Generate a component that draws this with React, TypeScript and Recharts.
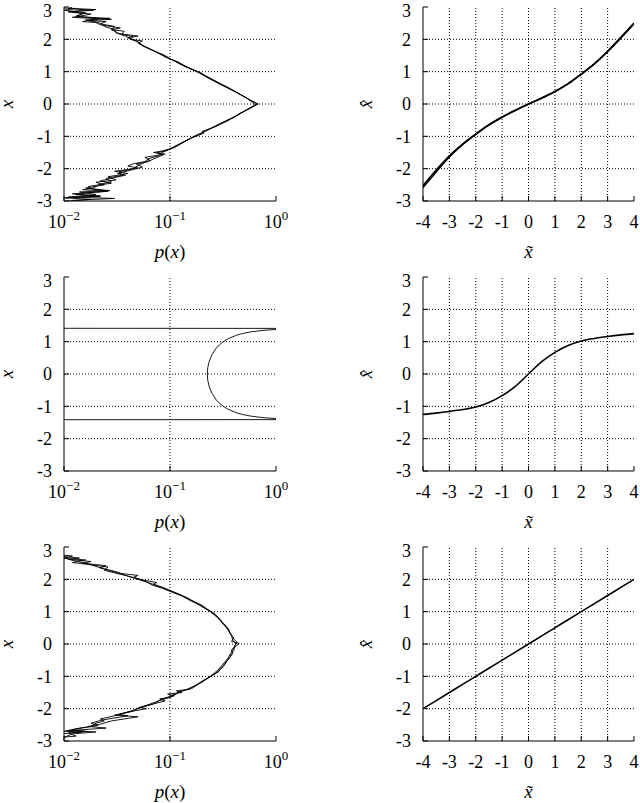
import { LineChart, Line, XAxis, YAxis, ReferenceLine } from 'recharts';

const FONT = '"Liberation Serif", "Times New Roman", serif';

// left column: density p(x) on a log axis against x
const pTicks = [0.01, 0.1, 1];
const pTickExps = ['−2', '−1', '0'];
const pGrid = [0.1];
const xTicks = [-3, -2, -1, 0, 1, 2, 3];
const xGrid = [-2, -1, 0, 1, 2];

// right column: x-hat against x-tilde
const tTicks = [-4, -3, -2, -1, 0, 1, 2, 3, 4];
const tGrid = [-3, -2, -1, 0, 1, 2, 3];
const tValues = [-4, -3.5, -3, -2.5, -2, -1.5, -1, -0.5, 0, 0.5, 1, 1.5, 2, 2.5, 3, 3.5, 4];

// [p, x] pairs, row 1 (laplacian-looking estimates)
const lapA = [
  [0.011, -3.0], [0.018, -2.95], [0.010, -2.9], [0.022, -2.85], [0.013, -2.8], [0.016, -2.75],
  [0.026, -2.7], [0.015, -2.65], [0.019, -2.6], [0.021, -2.5], [0.028, -2.4], [0.025, -2.3],
  [0.036, -2.2], [0.033, -2.1], [0.045, -2.0], [0.05, -1.9], [0.058, -1.8], [0.062, -1.7],
  [0.078, -1.6], [0.084, -1.5], [0.10, -1.4], [0.13, -1.2], [0.17, -1.0], [0.23, -0.8],
  [0.30, -0.6], [0.40, -0.4], [0.52, -0.2], [0.66, 0], [0.52, 0.2], [0.40, 0.4], [0.30, 0.6],
  [0.23, 0.8], [0.18, 1.0], [0.13, 1.2], [0.10, 1.4], [0.09, 1.5], [0.076, 1.6], [0.064, 1.7],
  [0.055, 1.8], [0.052, 1.9], [0.043, 2.0], [0.038, 2.1], [0.031, 2.2], [0.03, 2.3], [0.024, 2.4],
  [0.022, 2.5], [0.016, 2.6], [0.027, 2.65], [0.013, 2.7], [0.015, 2.8], [0.011, 2.85],
  [0.019, 2.9], [0.011, 2.95], [0.012, 3.0],
];
const lapB = [
  [0.012, -2.98], [0.03, -2.92], [0.011, -2.88], [0.02, -2.8], [0.014, -2.72], [0.027, -2.68],
  [0.016, -2.6], [0.024, -2.5], [0.02, -2.42], [0.031, -2.35], [0.026, -2.25], [0.04, -2.15],
  [0.03, -2.08], [0.05, -1.98], [0.04, -1.92], [0.045, -1.85], [0.065, -1.75], [0.058, -1.65],
  [0.09, -1.55], [0.07, -1.5], [0.085, -1.45], [0.11, -1.35], [0.14, -1.15], [0.16, -1.05],
  [0.21, -0.9], [0.2, -0.85], [0.27, -0.7], [0.36, -0.5], [0.45, -0.3], [0.56, -0.15], [0.68, 0],
  [0.55, 0.15], [0.47, 0.28], [0.36, 0.5], [0.29, 0.65], [0.22, 0.85], [0.2, 0.95], [0.17, 1.05],
  [0.14, 1.15], [0.12, 1.3], [0.09, 1.45], [0.08, 1.55], [0.07, 1.65], [0.058, 1.78], [0.05, 1.88],
  [0.055, 1.95], [0.042, 2.0], [0.045, 2.08], [0.035, 2.15], [0.037, 2.25], [0.028, 2.3],
  [0.03, 2.4], [0.022, 2.48], [0.025, 2.55], [0.017, 2.58], [0.028, 2.62], [0.012, 2.68],
  [0.018, 2.78], [0.011, 2.86], [0.02, 2.92], [0.01, 2.97],
];
const lapC = [
  [0.01, -2.9], [0.022, -2.85], [0.012, -2.78], [0.025, -2.7], [0.018, -2.62], [0.017, -2.55],
  [0.028, -2.45], [0.022, -2.38], [0.038, -2.2], [0.032, -2.15], [0.042, -2.05], [0.055, -1.95],
  [0.048, -1.85], [0.06, -1.8], [0.07, -1.7], [0.085, -1.58], [0.075, -1.52], [0.095, -1.42],
  [0.12, -1.25], [0.17, -1.0], [0.22, -0.82], [0.3, -0.6], [0.4, -0.42], [0.5, -0.22], [0.64, -0.02],
  [0.52, 0.2], [0.4, 0.4], [0.3, 0.62], [0.24, 0.8], [0.18, 1.0], [0.135, 1.2], [0.1, 1.4],
  [0.085, 1.52], [0.075, 1.6], [0.06, 1.75], [0.052, 1.85], [0.048, 1.95], [0.04, 2.05],
  [0.05, 2.1], [0.033, 2.18], [0.028, 2.3], [0.034, 2.35], [0.022, 2.45], [0.02, 2.52],
  [0.015, 2.55], [0.021, 2.65], [0.013, 2.72], [0.016, 2.82], [0.01, 2.9], [0.013, 2.96],
];

// row 2: arcsine-shaped density, with the jumps at the support edges
const arcsine = [
  [0.001, -3], [0.001, -1.415], [3.0, -1.41], [1.59, -1.4], [1.03, -1.38], [0.756, -1.35],
  [0.572, -1.3], [0.481, -1.25], [0.425, -1.2], [0.358, -1.1], [0.318, -1.0], [0.292, -0.9],
  [0.273, -0.8], [0.249, -0.6], [0.235, -0.4], [0.227, -0.2], [0.225, 0], [0.227, 0.2],
  [0.235, 0.4], [0.249, 0.6], [0.273, 0.8], [0.292, 0.9], [0.318, 1.0], [0.358, 1.1],
  [0.425, 1.2], [0.481, 1.25], [0.572, 1.3], [0.756, 1.35], [1.03, 1.38], [1.59, 1.4],
  [3.0, 1.41], [0.001, 1.415], [0.001, 3],
];

// row 3: gaussian-looking estimates
const gauA = [
  [0.008, -2.9], [0.013, -2.85], [0.011, -2.75], [0.016, -2.7], [0.012, -2.65], [0.018, -2.55],
  [0.02, -2.45], [0.024, -2.38], [0.022, -2.32], [0.03, -2.22], [0.036, -2.15], [0.045, -2.05],
  [0.05, -1.98], [0.062, -1.88], [0.075, -1.78], [0.085, -1.7], [0.1, -1.62], [0.12, -1.5],
  [0.14, -1.42], [0.17, -1.3], [0.2, -1.18], [0.24, -1.0], [0.28, -0.82], [0.31, -0.66],
  [0.35, -0.45], [0.38, -0.25], [0.4, -0.1], [0.42, 0], [0.39, 0.12], [0.38, 0.28], [0.35, 0.45],
  [0.32, 0.62], [0.28, 0.82], [0.24, 1.0], [0.19, 1.2], [0.15, 1.4], [0.12, 1.55], [0.1, 1.65],
  [0.08, 1.78], [0.062, 1.9], [0.05, 2.0], [0.04, 2.1], [0.032, 2.2], [0.025, 2.3], [0.02, 2.4],
  [0.016, 2.5], [0.013, 2.56], [0.011, 2.62], [0.01, 2.7], [0.007, 2.8],
];
const gauB = [
  [0.009, -2.95], [0.012, -2.78], [0.02, -2.72], [0.011, -2.68], [0.025, -2.6], [0.017, -2.55],
  [0.022, -2.48], [0.028, -2.38], [0.05, -2.25], [0.03, -2.2], [0.035, -2.15], [0.042, -2.1],
  [0.048, -2.02], [0.055, -1.95], [0.07, -1.85], [0.08, -1.75], [0.11, -1.6], [0.095, -1.55],
  [0.13, -1.5], [0.115, -1.45], [0.15, -1.4], [0.18, -1.25], [0.2, -1.15], [0.25, -0.98],
  [0.29, -0.85], [0.3, -0.75], [0.33, -0.6], [0.36, -0.45], [0.39, -0.3], [0.38, -0.18],
  [0.41, -0.1], [0.45, 0.02], [0.38, 0.08], [0.4, 0.18], [0.37, 0.3], [0.36, 0.45], [0.31, 0.65],
  [0.3, 0.75], [0.27, 0.9], [0.22, 1.1], [0.2, 1.2], [0.16, 1.35], [0.14, 1.45], [0.11, 1.6],
  [0.09, 1.72], [0.07, 1.85], [0.075, 1.9], [0.055, 1.98], [0.045, 2.06], [0.05, 2.12],
  [0.035, 2.18], [0.03, 2.25], [0.022, 2.35], [0.025, 2.42], [0.015, 2.5], [0.018, 2.55],
  [0.011, 2.62], [0.014, 2.66], [0.009, 2.72],
];
const gauC = [
  [0.008, -2.8], [0.015, -2.72], [0.01, -2.7], [0.014, -2.6], [0.021, -2.52], [0.018, -2.45],
  [0.023, -2.35], [0.04, -2.22], [0.033, -2.18], [0.038, -2.12], [0.06, -2.0], [0.052, -1.96],
  [0.065, -1.88], [0.09, -1.76], [0.08, -1.7], [0.1, -1.65], [0.13, -1.45], [0.16, -1.38],
  [0.19, -1.22], [0.23, -1.05], [0.27, -0.9], [0.32, -0.7], [0.34, -0.55], [0.37, -0.38],
  [0.4, -0.2], [0.41, -0.05], [0.43, 0.05], [0.4, 0.15], [0.39, 0.22], [0.36, 0.4], [0.34, 0.55],
  [0.29, 0.78], [0.26, 0.95], [0.23, 1.05], [0.18, 1.25], [0.16, 1.32], [0.13, 1.48],
  [0.105, 1.6], [0.085, 1.72], [0.068, 1.82], [0.058, 1.95], [0.046, 2.05], [0.038, 2.12],
  [0.03, 2.2], [0.024, 2.28], [0.026, 2.38], [0.018, 2.45], [0.012, 2.52], [0.016, 2.6],
  [0.01, 2.65], [0.012, 2.72], [0.008, 2.78],
];

// right column curves, one value per tValues entry
const hatTopA = [-2.52, -2.04, -1.6, -1.24, -0.93, -0.64, -0.4, -0.19, 0, 0.18, 0.38, 0.62, 0.92, 1.24, 1.62, 2.04, 2.48];
const hatTopB = [-2.58, -2.1, -1.64, -1.26, -0.94, -0.65, -0.41, -0.2, 0, 0.19, 0.39, 0.63, 0.93, 1.25, 1.63, 2.06, 2.5];
const hatMid = [-1.25, -1.21, -1.16, -1.1, -1.02, -0.88, -0.67, -0.38, 0, 0.38, 0.67, 0.88, 1.02, 1.1, 1.16, 1.21, 1.25];
const hatBot = [-2, -1.75, -1.5, -1.25, -1, -0.75, -0.5, -0.25, 0, 0.25, 0.5, 0.75, 1, 1.25, 1.5, 1.75, 2];

const toPX = (arr: number[][]) => arr.map(([p, x]) => ({ p, x }));
const toTH = (h: number[]) => tValues.map((t, i) => ({ t, h: h[i] }));

const W = 320;
const H = 270;
const gridStyle = { stroke: '#000', strokeDasharray: '1 2', strokeWidth: 1 };

function LogTick(props: any) {
  const { x, y, payload } = props;
  const i = pTicks.indexOf(payload.value);
  return (
    <text x={x} y={y + 27} textAnchor="middle" fontFamily={FONT} fontSize={18} fill="#000">
      <tspan>10</tspan>
      <tspan dy={-8} fontSize={13}>{pTickExps[i]}</tspan>
    </text>
  );
}

function NumTick(props: any) {
  const { x, y, payload } = props;
  return (
    <text x={x} y={y + 27} textAnchor="middle" fontFamily={FONT} fontSize={18} fill="#000">
      {payload.value}
    </text>
  );
}

const bottomTitle = (node: any) => (props: any) => {
  const vb = props.viewBox;
  return (
    <text x={vb.x + vb.width / 2} y={vb.y + 57} textAnchor="middle" fontFamily={FONT} fontSize={19} fill="#000">
      {node}
    </text>
  );
};

const sideTitle = (node: any) => (props: any) => {
  const vb = props.viewBox;
  const tx = vb.x - 1;
  const ty = vb.y + vb.height / 2;
  return (
    <text x={tx} y={ty} transform={`rotate(-90 ${tx} ${ty})`} textAnchor="middle" fontFamily={FONT} fontSize={19} fill="#000">
      {node}
    </text>
  );
};

const pLabel = (
  <>
    <tspan fontStyle="italic">p</tspan>(<tspan fontStyle="italic">x</tspan>)
  </>
);
const xLabel = <tspan fontStyle="italic">x</tspan>;
const tildeLabel = <tspan fontStyle="italic">{'x\u0303'}</tspan>;
const hatLabel = <tspan fontStyle="italic">{'x\u0302'}</tspan>;

const yTickStyle = { fontFamily: FONT, fontSize: 18, fill: '#000' };

function DensityPanel(props: { series: number[][][]; top: number }) {
  return (
    <div style={{ position: 'absolute', left: 0, top: props.top }}>
      <LineChart width={W} height={H} margin={{ top: 7, right: 44, bottom: 5, left: 14 }}>
        <XAxis
          dataKey="p"
          type="number"
          scale="log"
          domain={[0.01, 1]}
          ticks={pTicks}
          allowDataOverflow
          height={64}
          tickSize={-5}
          tickMargin={5}
          stroke="#000"
          tick={<LogTick />}
          label={bottomTitle(pLabel)}
        />
        <XAxis xAxisId="top" orientation="top" dataKey="p" type="number" scale="log" domain={[0.01, 1]}
          ticks={pTicks} allowDataOverflow height={0} tickSize={-5} tick={false} stroke="#000" />
        <YAxis
          type="number"
          domain={[-3, 3]}
          ticks={xTicks}
          allowDataOverflow
          width={50}
          tickSize={-5}
          tickMargin={17}
          stroke="#000"
          tick={yTickStyle}
          label={sideTitle(xLabel)}
        />
        <YAxis yAxisId="right" orientation="right" type="number" domain={[-3, 3]} ticks={xTicks}
          width={0} tickSize={-5} tick={false} stroke="#000" />
        {pGrid.map((v) => (
          <ReferenceLine key={'v' + v} x={v} {...gridStyle} />
        ))}
        {xGrid.map((v) => (
          <ReferenceLine key={'h' + v} y={v} {...gridStyle} />
        ))}
        {props.series.map((s, i) => (
          <Line
            key={i}
            data={toPX(s)}
            dataKey="x"
            type="linear"
            stroke="#000"
            strokeWidth={0.9}
            dot={false}
            isAnimationActive={false}
          />
        ))}
      </LineChart>
    </div>
  );
}

function MapPanel(props: { series: number[][]; top: number }) {
  return (
    <div style={{ position: 'absolute', left: 320, top: props.top }}>
      <LineChart width={W} height={H} margin={{ top: 7, right: 6, bottom: 5, left: 53 }}>
        <XAxis
          dataKey="t"
          type="number"
          domain={[-4, 4]}
          ticks={tTicks}
          allowDataOverflow
          height={64}
          tickSize={-5}
          tickMargin={5}
          stroke="#000"
          tick={<NumTick />}
          label={bottomTitle(tildeLabel)}
        />
        <XAxis xAxisId="top" orientation="top" dataKey="t" type="number" domain={[-4, 4]}
          ticks={tTicks} height={0} tickSize={-5} tick={false} stroke="#000" />
        <YAxis
          type="number"
          domain={[-3, 3]}
          ticks={xTicks}
          allowDataOverflow
          width={50}
          tickSize={-5}
          tickMargin={17}
          stroke="#000"
          tick={yTickStyle}
          label={sideTitle(hatLabel)}
        />
        <YAxis yAxisId="right" orientation="right" type="number" domain={[-3, 3]} ticks={xTicks}
          width={0} tickSize={-5} tick={false} stroke="#000" />
        {tGrid.map((v) => (
          <ReferenceLine key={'v' + v} x={v} {...gridStyle} />
        ))}
        {xGrid.map((v) => (
          <ReferenceLine key={'h' + v} y={v} {...gridStyle} />
        ))}
        {props.series.map((s, i) => (
          <Line
            key={i}
            data={toTH(s)}
            dataKey="h"
            type="monotone"
            stroke="#000"
            strokeWidth={1.6}
            dot={false}
            isAnimationActive={false}
          />
        ))}
      </LineChart>
    </div>
  );
}

export default function App() {
  return (
    <div style={{ position: 'absolute', left: 0, top: 0, width: 640, height: 803, background: '#fff' }}>
      <DensityPanel series={[lapA, lapB, lapC]} top={0} />
      <MapPanel series={[hatTopA, hatTopB]} top={0} />
      <DensityPanel series={[arcsine]} top={270} />
      <MapPanel series={[hatMid]} top={270} />
      <DensityPanel series={[gauA, gauB, gauC]} top={540} />
      <MapPanel series={[hatBot]} top={540} />
    </div>
  );
}
